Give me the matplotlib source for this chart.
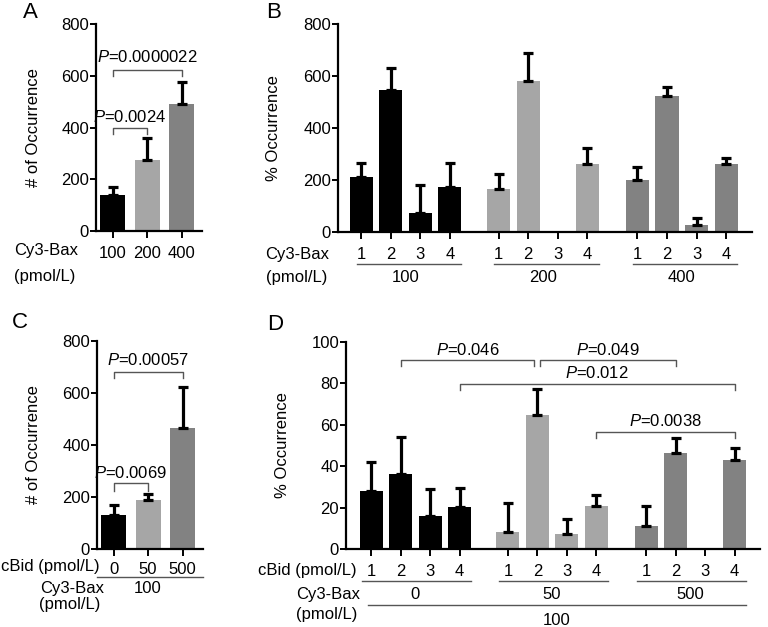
import numpy as np
import matplotlib
matplotlib.use("Agg")
import matplotlib.pyplot as plt

plt.rcParams["font.family"] = ["Liberation Sans", "DejaVu Sans"]
plt.rcParams["mathtext.fontset"] = "custom"
plt.rcParams["mathtext.rm"] = "Liberation Sans"
plt.rcParams["mathtext.it"] = "Liberation Sans:italic"

# ---- data ----
colors = ["#000000", "#a6a6a6", "#828282"]

# A: Cy3-Bax concentration
a_labels = ["100", "200", "400"]
a_mean = [139, 273, 492]
a_err = [31, 86, 85]

# B: occurrence per state, grouped by Cy3-Bax concentration
b_groups = ["100", "200", "400"]
b_states = ["1", "2", "3", "4"]
b_mean = [[210, 547, 74, 175],
          [166, 579, 0, 262],
          [199, 524, 26, 262]]
b_err = [[57, 82, 106, 90],
         [58, 110, 0, 60],
         [51, 34, 28, 22]]

# C: cBid concentration
c_labels = ["0", "50", "500"]
c_mean = [131, 189, 466]
c_err = [40, 21, 158]

# D: occurrence per state, grouped by cBid concentration
d_groups = ["0", "50", "500"]
d_states = ["1", "2", "3", "4"]
d_mean = [[28.2, 36.3, 16.0, 20.2],
          [8.0, 64.7, 7.4, 20.7],
          [10.9, 46.5, 0, 43.0]]
d_err = [[14.0, 18.0, 13.0, 9.5],
         [14.0, 12.7, 7.2, 5.3],
         [10.0, 7.0, 0, 6.0]]

group_offsets = [0, 4.64, 9.33]

W, H = 768, 627
fig = plt.figure(figsize=(W / 100, H / 100), dpi=100)
FS = 12


def add_axes(left, top, right, bottom):
    return fig.add_axes([left / W, 1 - bottom / H, (right - left) / W, (bottom - top) / H])


def ftext(x, y, s, **kw):
    kw.setdefault("ha", "center")
    kw.setdefault("va", "center")
    kw.setdefault("fontsize", FS)
    fig.text(x / W, 1 - y / H, s, **kw)


def style(ax, ymax, step, ylabel, lx):
    for sp in ["top", "right"]:
        ax.spines[sp].set_visible(False)
    for sp in ["left", "bottom"]:
        ax.spines[sp].set_linewidth(1.6)
    ax.set_ylim(0, ymax)
    ax.set_yticks(np.arange(0, ymax + 1, step))
    ax.tick_params(axis="y", length=4, width=1.4, pad=1, labelsize=FS)
    ax.tick_params(axis="x", length=5, width=1.4, pad=6, labelsize=FS)
    ax.set_ylabel(ylabel, fontsize=FS)
    ax.yaxis.set_label_coords(lx, 0.5)


def draw_bars(ax, x, mean, err, color, width):
    ax.bar(x, mean, width=width, color=color, edgecolor="none", zorder=2)
    for xi, m, e in zip(x, mean, err):
        if e > 0:
            ax.errorbar(xi, m, yerr=[[0], [e]], fmt="none", ecolor="black",
                        elinewidth=2.3, capsize=3.8, capthick=2.3, zorder=3)


def bracket(ax, x1, x2, y, drop, label, dy_text):
    ax.plot([x1, x1, x2, x2], [y - drop, y, y, y - drop], color="#555555",
            lw=1.0, clip_on=False, zorder=4)
    ax.text((x1 + x2) / 2, y + dy_text, label, ha="center", va="center",
            fontsize=FS, clip_on=False)


def under_line(ax, x1, x2, yfrac, lw=1.0):
    ax.plot([x1, x2], [yfrac, yfrac], color="#555555", lw=lw,
            transform=ax.get_xaxis_transform(), clip_on=False)


# ---- panel A ----
axA = add_axes(96, 24, 202, 231)
xa = np.arange(len(a_labels))
draw_bars(axA, xa, a_mean, a_err, colors, 0.72)
style(axA, 800, 200, "# of Occurrence", -0.52)
axA.set_xlim(-0.48, 2.59)
axA.set_xticks(xa, a_labels)
bracket(axA, 0, 1, 400, 25, r"$\it{P}$=0.0024", 40)
bracket(axA, 0, 2, 623, 23, r"$\it{P}$=0.0000022", 50)
ftext(46, 250, "Cy3-Bax")
ftext(45, 276, "(pmol/L)")
ftext(30, 13, "A", fontsize=16)

# ---- panel B ----
axB = add_axes(338, 24, 752, 232)
xb_all, xb_lab = [], []
for g in range(len(b_groups)):
    xb = group_offsets[g] + np.arange(len(b_states))
    draw_bars(axB, xb, b_mean[g], b_err[g], colors[g], 0.78)
    xb_all.extend(xb)
    xb_lab.extend(b_states)
    under_line(axB, xb[0] - 0.15, xb[-1] + 0.38, -0.154)
    axB.text(xb.mean(), -0.22, b_groups[g], transform=axB.get_xaxis_transform(),
             ha="center", va="center", fontsize=FS)
style(axB, 800, 200, "% Occurrence", -0.137)
axB.set_xlim(-0.78, 13.2)
axB.set_xticks(xb_all, xb_lab)
ftext(297, 254, "Cy3-Bax")
ftext(297, 278, "(pmol/L)")
ftext(274, 13, "B", fontsize=16)

# ---- panel C ----
axC = add_axes(97, 341, 203, 549)
xc = np.arange(len(c_labels))
draw_bars(axC, xc, c_mean, c_err, colors, 0.72)
style(axC, 800, 200, "# of Occurrence", -0.53)
axC.set_xlim(-0.48, 2.59)
axC.set_xticks(xc, c_labels)
axC.tick_params(axis="x", pad=4)
bracket(axC, 0, 1, 253, 28, r"$\it{P}$=0.0069", 40)
bracket(axC, 0, 2, 682, 26, r"$\it{P}$=0.00057", 44)
under_line(axC, -0.48, 2.6, -0.135)
axC.text(1, -0.188, "100", transform=axC.get_xaxis_transform(),
         ha="center", va="center", fontsize=FS)
ftext(50, 567, "cBid (pmol/L)")
ftext(72, 588, "Cy3-Bax")
ftext(70, 605, "(pmol/L)")
ftext(20, 323, "C", fontsize=16)

# ---- panel D ----
axD = add_axes(346, 342, 760, 549)
xd_all, xd_lab = [], []
for g in range(len(d_groups)):
    xd = group_offsets[g] + np.arange(len(d_states))
    draw_bars(axD, xd, d_mean[g], d_err[g], colors[g], 0.78)
    xd_all.extend(xd)
    xd_lab.extend(d_states)
    under_line(axD, xd[0] - 0.3, xd[-1] + 0.4, -0.154)
    axD.text(xd.mean(), -0.22, d_groups[g], transform=axD.get_xaxis_transform(),
             ha="center", va="center", fontsize=FS)
style(axD, 100, 20, "% Occurrence", -0.135)
axD.set_xlim(-0.85, 13.19)
axD.set_xticks(xd_all, xd_lab)
x2a, x2b = group_offsets[0] + 1, group_offsets[1] + 1
x4a, x4b, x4c = group_offsets[0] + 3, group_offsets[1] + 3, group_offsets[2] + 3
bracket(axD, x2a, x2b - 0.1, 91.5, 3.3, r"$\it{P}$=0.046", 4.8)
bracket(axD, x2b + 0.1, group_offsets[2] + 1, 91.5, 3.3, r"$\it{P}$=0.049", 4.8)
bracket(axD, x4a, x4c, 79.6, 3.0, r"$\it{P}$=0.012", 5.6)
bracket(axD, x4b, x4c, 56.7, 3.2, r"$\it{P}$=0.0038", 4.9)
under_line(axD, -0.1, 12.7, -0.27)
axD.text(6.3, -0.345, "100", transform=axD.get_xaxis_transform(),
         ha="center", va="center", fontsize=FS)
ftext(307, 570, "cBid (pmol/L)")
ftext(328, 595, "Cy3-Bax")
ftext(327, 615, "(pmol/L)")
ftext(275, 325, "D", fontsize=16)

fig.savefig("out.png", dpi=100)
